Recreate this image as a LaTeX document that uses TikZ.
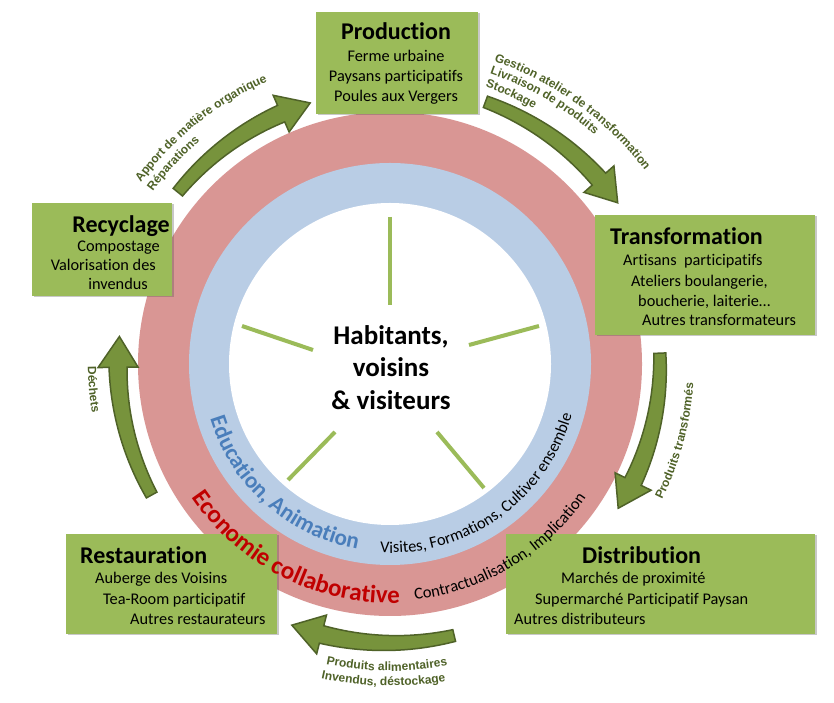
\documentclass[tikz,border=0pt]{standalone}
\usepackage{fontspec}
\setmainfont{Carlito}[Ligatures=NoCommon]
\newfontfamily\arialfont{Liberation Sans}
\usetikzlibrary{decorations.text,shadows}
\definecolor{boxgreen}{HTML}{9BBB59}
\definecolor{spokegreen}{HTML}{9BBB59}
\definecolor{arrowfill}{HTML}{77933C}
\definecolor{arrowdraw}{HTML}{4F6228}
\definecolor{labgreen}{HTML}{4F6228}
\definecolor{ringred}{HTML}{D99694}
\definecolor{ringblue}{HTML}{B9CDE5}
\definecolor{edublue}{HTML}{4A7EBB}
\definecolor{ecored}{HTML}{C00000}
\newcommand\greenbend[4]{%
\filldraw[arrowsty] plot[domain=#2:#3, samples=25] (\x:{#1+6+3*(\x-#2)/(#3-#2)}) -- (#3:{#1+20}) -- (#4:#1) -- (#3:{#1-20}) -- plot[domain=#3:#2, samples=25] (\x:{#1-6-3*(\x-#2)/(#3-#2)}) -- cycle;}
\newcommand\lab{\arialfont\bfseries\fontsize{12}{14}\selectfont\color{labgreen}}
\begin{document}
\begin{tikzpicture}[x=1pt,y=1pt,
  boxsty/.style={fill=boxgreen, draw=none, inner sep=0pt,
    drop shadow={shadow xshift=1.5pt, shadow yshift=-1.5pt, opacity=0.3, fill=black!70}},
  titlesty/.style={font=\fontsize{24}{27}\selectfont\bfseries, inner sep=0pt},
  bodysty/.style={font=\fontsize{16.3}{19}\selectfont, inner sep=0pt},
  centersty/.style={font=\fontsize{27}{30}\selectfont\bfseries, inner sep=0pt, anchor=base},
  arrowsty/.style={fill=arrowfill, draw=arrowdraw, line width=1.5pt, line join=miter},
  spokesty/.style={draw=spokegreen, line width=4pt}]
\useasboundingbox (0,0) rectangle (834,703);
\fill[white] (0,0) rectangle (834,703);
% rings
\begin{scope}[shift={(390,339)}]
\fill[ringred] (0,0) circle[radius=252];
\fill[ringblue] (0,0) circle[radius=201];
\fill[white] (0,0) circle[radius=161];
\end{scope}
% spokes
\draw[spokesty] (390,486) -- (390,398);
\draw[spokesty] (242,377) -- (313,353);
\draw[spokesty] (539,377) -- (469,358);
\draw[spokesty] (288,223) -- (335,271);
\draw[spokesty] (484,215) -- (437,271);
% center text
\node[centersty] (c1) at (391,358.5) {Habitants,};
\node[centersty] (c2) at (391,326) {voisins};
\node[centersty] (c3) at (391,293.5) {\& visiteurs};
% boxes
\node[boxsty, minimum width=162pt, minimum height=102pt] (prodbox) at (397,640) {};
\node[boxsty, minimum width=140pt, minimum height=93pt] (recbox) at (102,453.5) {};
\node[boxsty, minimum width=220pt, minimum height=120pt] (trbox) at (705,428) {};
\node[boxsty, minimum width=309pt, minimum height=100pt] (distbox) at (660.5,119) {};
\node[boxsty, minimum width=211pt, minimum height=100pt] (restbox) at (171.5,119) {};
\begin{scope}[shift={(390,339)}]
% arc texts
\path[decorate, decoration={text along path, text align=left,
  text={|\fontsize{23}{27}\selectfont\bfseries\color{edublue}|Education, Animation}}]
  (197:188) arc[start angle=197, end angle=280, radius=188];
\path[decorate, decoration={text along path, text align=left,
  text={|\fontsize{16.4}{19}\selectfont\color{black}|Visites, Formations, Cultiver ensemble}}]
  (267:189) arc[start angle=267, end angle=380, radius=189];
\path[decorate, decoration={text along path, text align=left,
  text={|\fontsize{25}{29}\selectfont\bfseries\color{ecored}|Economie collaborative}}]
  (214:239) arc[start angle=214, end angle=300, radius=239];
\path[decorate, decoration={text along path, text align=left,
  text={|\fontsize{16.5}{19}\selectfont\color{black}|Contractualisation, Implication}}]
  (276:237) arc[start angle=276, end angle=360, radius=237];
% arrows
\greenbend{273}{141}{113.5}{107}
\greenbend{279}{70}{41.5}{35.3}
\greenbend{270}{2.3}{-25.8}{-32.3}
\greenbend{279}{-76.7}{-104.2}{-110.6}
\greenbend{272}{208.8}{180.7}{174.2}
% arrow labels
\path[decorate, decoration={text along path, text align=left,
  text={|\lab|Apport de matière organique}}]
  (144:308) arc[start angle=144, end angle=90, radius=308];
\path[decorate, decoration={text along path, text align=left,
  text={|\lab|Réparations}}]
  (144:293) arc[start angle=144, end angle=105, radius=293];
\path[decorate, decoration={text along path, text align=left,
  text={|\lab|Gestion atelier de transformation}}]
  (71:320) arc[start angle=71, end angle=10, radius=320];
\path[decorate, decoration={text along path, text align=left,
  text={|\lab|Livraison de produits}}]
  (71:307) arc[start angle=71, end angle=25, radius=307];
\path[decorate, decoration={text along path, text align=left,
  text={|\lab|Stockage}}]
  (71:293) arc[start angle=71, end angle=40, radius=293];
\path[decorate, decoration={text along path, text align=left,
  text={|\lab|Produits transformés}}]
  (-26.5:304) arc[start angle=-26.5, end angle=15, radius=304];
\path[decorate, decoration={text along path, text align=center,
  text={|\lab|Produits alimentaires}}]
  (-120:307) arc[start angle=-120, end angle=-61.2, radius=307];
\path[decorate, decoration={text along path, text align=center,
  text={|\lab|Invendus, déstockage}}]
  (-120:322) arc[start angle=-120, end angle=-62.4, radius=322];
\path[decorate, decoration={text along path, text align=left,
  text={|\lab|Déchets}}]
  (180.5:302) arc[start angle=180.5, end angle=210, radius=302];
\end{scope}
% Production
\node[titlesty, anchor=base] (p0) at (396,663) {Production};
\node[bodysty, anchor=base] (p1) at (396,641.5) {Ferme urbaine};
\node[bodysty, anchor=base] (p2) at (396,621.5) {Paysans participatifs};
\node[bodysty, anchor=base] (p3) at (396,601.5) {Poules aux Vergers};
% Recyclage
\node[titlesty, anchor=base east] (r0) at (170,470) {Recyclage};
\node[bodysty, anchor=base east] (r1) at (160,451) {Compostage};
\node[bodysty, anchor=base east] (r2) at (156,432) {Valorisation des};
\node[bodysty, anchor=base east] (r3) at (148,413) {invendus};
% Transformation
\node[titlesty, anchor=base west] (t0) at (610,458) {Transformation};
\node[bodysty, anchor=base west] (t1) at (623,437) {Artisans~ participatifs};
\node[bodysty, anchor=base west] (t2) at (631,416.5) {Ateliers boulangerie,};
\node[bodysty, anchor=base west] (t3) at (638,396.5) {boucherie, laiterie…};
\node[bodysty, anchor=base west] (t4) at (642,377) {Autres transformateurs};
% Distribution
\node[titlesty, anchor=base west] (d0) at (582,139) {Distribution};
\node[bodysty, anchor=base west] (d1) at (561,119) {Marchés de proximité};
\node[bodysty, anchor=base west] (d2) at (535,98) {Supermarché Participatif Paysan};
\node[bodysty, anchor=base west] (d3) at (514,78) {Autres distributeurs};
% Restauration
\node[titlesty, anchor=base west] (s0) at (80,139) {Restauration};
\node[bodysty, anchor=base west] (s1) at (95,119) {Auberge des Voisins};
\node[bodysty, anchor=base west] (s2) at (103,98) {Tea-Room participatif};
\node[bodysty, anchor=base west] (s3) at (130,78) {Autres restaurateurs};
\end{tikzpicture}
\end{document}
